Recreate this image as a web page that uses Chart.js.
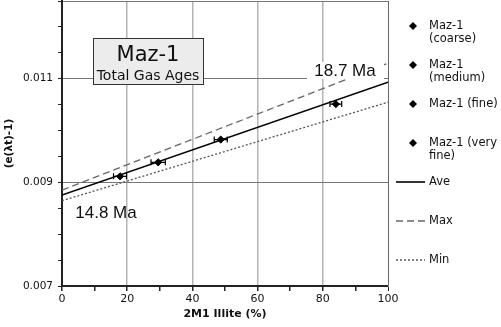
<!DOCTYPE html>
<html>
<head>
<meta charset="utf-8">
<script src="https://cdn.jsdelivr.net/npm/chart.js@4.4.1/dist/chart.umd.min.js"></script>
<style>
	html, body { margin: 0; padding: 0; background: #fff; overflow: hidden; }
	#maz1 { display: block; margin-top: -4px; }
</style>
</head>
<body>
<canvas id="maz1" width="501" height="331"></canvas>
<script>
// samples: 2M1 illite % vs (e^(lambda t) - 1)
const sampleNames = ['Maz-1 (coarse)', 'Maz-1 (medium)', 'Maz-1 (fine)', 'Maz-1 (very fine)'];
const illite = [84, 48.7, 29.5, 17.8];
const illiteErr = [1.8, 2, 2.2, 2];
const ratio = [0.01051, 0.009826, 0.009387, 0.009116];

// fit lines, evaluated at 0% and 100%
const lineNames = ['Ave', 'Max', 'Min'];
const lineX = [0, 100];
const aveY = [0.008756, 0.010934];
const maxY = [0.00885, 0.0113];
const minY = [0.008646, 0.010547];

const ageLabels = ['18.7 Ma', '14.8 Ma'];
const titleLines = ['Maz-1', 'Total Gas Ages'];
const yLabels = [0.007, 0.009, 0.011];
const xLabels = [0, 20, 40, 60, 80, 100];

const FONT = '"DejaVu Sans", Verdana, sans-serif';
const ARIAL = '"Liberation Sans", Arial, sans-serif';

const isLabel = (list, v) => list.some(l => Math.abs(l - v) < 1e-7);

const pointSets = sampleNames.map((name, i) => ({
	label: name,
	data: [{ x: illite[i], y: ratio[i] }],
	pointStyle: 'rectRot',
	pointRadius: 3.6,
	backgroundColor: '#000',
	borderColor: '#000',
	borderWidth: 1,
	showLine: false,
	errX: illiteErr[i],
	kind: 'point',
}));

const lineStyles = [
	{ color: '#000', width: 1.6, dash: [] },
	{ color: '#666', width: 1.3, dash: [7, 4] },
	{ color: '#555', width: 1.3, dash: [2, 2] },
];
const lineSets = [aveY, maxY, minY].map((ys, i) => ({
	label: lineNames[i],
	data: lineX.map((x, j) => ({ x: x, y: ys[j] })),
	showLine: true,
	pointRadius: 0,
	borderColor: lineStyles[i].color,
	borderWidth: lineStyles[i].width,
	borderDash: lineStyles[i].dash,
	kind: 'line',
}));

// horizontal error bars with caps
const errorBars = {
	id: 'errorBars',
	afterDatasetsDraw(chart) {
		const ctx = chart.ctx;
		const xs = chart.scales.x, ys = chart.scales.y;
		ctx.save();
		ctx.strokeStyle = '#000';
		ctx.lineWidth = 1.2;
		chart.data.datasets.forEach(ds => {
			if (ds.kind !== 'point') return;
			const p = ds.data[0];
			const x1 = xs.getPixelForValue(p.x - ds.errX);
			const x2 = xs.getPixelForValue(p.x + ds.errX);
			const y = ys.getPixelForValue(p.y);
			ctx.beginPath();
			ctx.moveTo(x1, y); ctx.lineTo(x2, y);
			ctx.moveTo(x1, y - 3); ctx.lineTo(x1, y + 3);
			ctx.moveTo(x2, y - 3); ctx.lineTo(x2, y + 3);
			ctx.stroke();
		});
		ctx.restore();
	}
};

// title box, age labels and the side legend
const extras = {
	id: 'extras',
	afterDraw(chart) {
		const ctx = chart.ctx;
		const a = chart.chartArea;
		const t = a.top;
		ctx.save();

		// title box
		ctx.fillStyle = '#ececec';
		ctx.strokeStyle = '#333';
		ctx.lineWidth = 1;
		ctx.fillRect(a.left + 31, t + 37, 110, 46);
		ctx.strokeRect(a.left + 31.5, t + 37.5, 110, 46);
		ctx.fillStyle = '#111';
		ctx.textAlign = 'center';
		ctx.textBaseline = 'middle';
		ctx.font = '21px ' + FONT;
		ctx.fillText(titleLines[0], a.left + 86, t + 55);
		ctx.font = '14px ' + FONT;
		ctx.fillText(titleLines[1], a.left + 86, t + 75);

		// age labels
		ctx.fillStyle = '#fff';
		ctx.fillRect(a.right - 81, t + 61, 77, 17);
		ctx.fillStyle = '#111';
		ctx.font = '17px ' + ARIAL;
		ctx.fillText(ageLabels[0], a.right - 43, t + 70);
		ctx.fillText(ageLabels[1], a.left + 44, t + 212);

		// legend
		const lx = a.right + 8, tx = a.right + 41, maxW = 501 - tx;
		ctx.font = '11.5px ' + FONT;
		ctx.textAlign = 'left';
		chart.data.datasets.forEach((ds, i) => {
			const cy = t + 25 + i * 39;
			if (ds.kind === 'point') {
				ctx.fillStyle = '#000';
				ctx.beginPath();
				ctx.moveTo(lx + 17, cy - 4);
				ctx.lineTo(lx + 21, cy);
				ctx.lineTo(lx + 17, cy + 4);
				ctx.lineTo(lx + 13, cy);
				ctx.closePath();
				ctx.fill();
			} else {
				ctx.strokeStyle = ds.borderColor;
				ctx.lineWidth = ds.borderWidth;
				ctx.setLineDash(ds.borderDash);
				ctx.beginPath();
				ctx.moveTo(lx, cy);
				ctx.lineTo(lx + 29, cy);
				ctx.stroke();
				ctx.setLineDash([]);
			}
			// wrap label text
			const words = ds.label.split(' ');
			const lines = [];
			let cur = '';
			words.forEach(w => {
				const s = cur ? cur + ' ' + w : w;
				if (cur && ctx.measureText(s).width > maxW) { lines.push(cur); cur = w; } else cur = s;
			});
			lines.push(cur);
			ctx.fillStyle = '#111';
			lines.forEach((ln, k) => ctx.fillText(ln, tx, cy + k * 13.5));
		});
		ctx.restore();
	}
};

new Chart(document.getElementById('maz1'), {
	type: 'scatter',
	data: { datasets: [...pointSets, ...lineSets] },
	options: {
		responsive: false,
		animation: false,
		devicePixelRatio: 1,
		layout: { padding: { left: 0, top: 0, right: 113, bottom: 0 } },
		plugins: { legend: { display: false }, tooltip: { enabled: false } },
		scales: {
			x: {
				type: 'linear',
				min: 0, max: 100,
				afterFit: s => { s.height = 41; s.paddingLeft = 0; s.paddingRight = 0; },
				border: { color: '#222', width: 2 },
				grid: {
					color: c => c.tick.value === 100 ? '#666' : (c.tick.value % 20 === 0 && c.tick.value > 0 ? '#b4b4b4' : 'rgba(0,0,0,0)'),
					lineWidth: c => (c.tick.value === 100 ? 1 : 1.5),
					tickColor: '#222',
					tickLength: 5,
				},
				ticks: {
					stepSize: 10,
					autoSkip: false,
					maxRotation: 0,
					padding: 2,
					color: '#111',
					font: { family: FONT, size: 11 },
					callback: v => (isLabel(xLabels, v) ? String(v) : ''),
				},
				title: {
					display: true,
					text: '2M1 Illite (%)',
					color: '#111',
					font: { family: FONT, size: 11, weight: 'bold' },
					padding: { top: 0, bottom: 6 },
				},
			},
			y: {
				type: 'linear',
				min: 0.007, max: 0.0125,
				afterFit: s => { s.width = 62; s.paddingTop = 0; s.paddingBottom = 0; },
				border: { color: '#222', width: 2 },
				grid: {
					color: c => isLabel([0.009, 0.011], c.tick.value) ? '#777' : (Math.abs(c.tick.value - 0.0125) < 1e-7 ? '#777' : 'rgba(0,0,0,0)'),
					lineWidth: 1,
					tickColor: '#222',
					tickLength: 4,
				},
				ticks: {
					stepSize: 0.0005,
					autoSkip: false,
					padding: 5,
					color: '#111',
					font: { family: FONT, size: 10.5 },
					callback: v => (isLabel(yLabels, v) ? v.toFixed(3) : ''),
				},
				title: {
					display: true,
					text: '(e(λt)-1)',
					color: '#111',
					font: { family: FONT, size: 10.5, weight: 'bold' },
					padding: { top: 3, bottom: 0 },
				},
			},
		},
	},
	plugins: [errorBars, extras],
});
</script>
</body>
</html>
